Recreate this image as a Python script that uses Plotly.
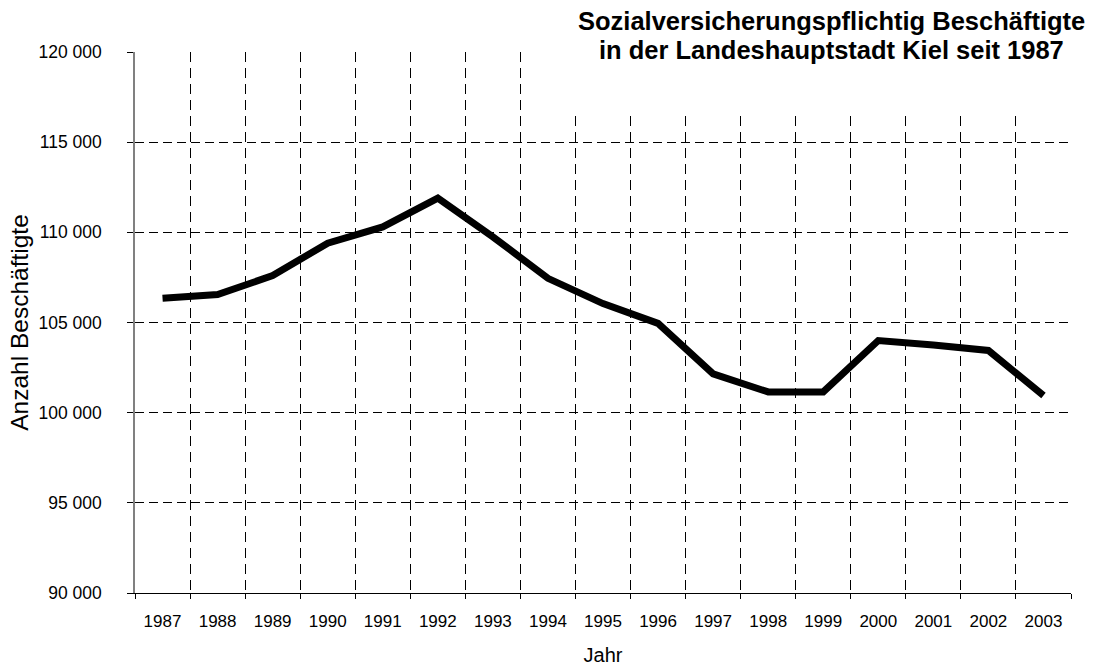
import plotly.graph_objects as go

years = [str(y) for y in range(1987, 2004)]
beschaeftigte = [106350, 106550, 107600, 109400, 110300, 111900, 109750, 107450,
                 106050, 104950, 102150, 101150, 101150, 104000, 103750, 103450, 100950]
y_tickvals = [90000, 95000, 100000, 105000, 110000, 115000, 120000]
y_ticktext = ["90 000", "95 000", "100 000", "105 000", "110 000", "115 000", "120 000"]
title_lines = ["Sozialversicherungspflichtig Beschäftigte",
               "in der Landeshauptstadt Kiel seit 1987"]

FONT = "Liberation Sans, Arial, sans-serif"

fig = go.Figure()
fig.add_trace(go.Scatter(
    x=years, y=beschaeftigte, mode="lines",
    line=dict(color="black", width=7),
    hoverinfo="x+y", showlegend=False,
))

W, H = 1097, 666
L, R, T, B = 135, 26, 52, 73
pw, ph = W - L - R, H - T - B

def px_x(x):
    return (x - L) / pw

def px_y(y):
    return (H - B - y) / ph

fig.update_layout(
    width=W, height=H,
    margin=dict(l=L, r=R, t=T, b=B, pad=0),
    paper_bgcolor="white", plot_bgcolor="white",
    font=dict(family=FONT, color="black", size=17),
    xaxis=dict(
        type="category", tickson="boundaries", range=[-0.5, len(years) - 0.5],
        showline=True, linecolor="black", linewidth=1,
        ticks="outside", ticklen=5, tickcolor="black", tickwidth=1,
        showgrid=True, gridcolor="black", gridwidth=1, griddash="10px,6px",
        tickfont=dict(size=17), ticklabelstandoff=13,
        title=dict(text="Jahr", font=dict(size=20), standoff=17),
        automargin=False,
    ),
    yaxis=dict(
        range=[90000, 120000], tickvals=y_tickvals, ticktext=y_ticktext,
        showline=True, linecolor="#808080", linewidth=1.5,
        ticks="outside", ticklen=6, tickcolor="black", tickwidth=1,
        showgrid=True, gridcolor="black", gridwidth=1, griddash="9px,5px",
        zeroline=False,
        tickfont=dict(size=17.5), ticklabelstandoff=22,
        title=dict(text="Anzahl Beschäftigte", font=dict(size=24.5), standoff=3),
        automargin=False,
    ),
)

# white title box covering the grid in the top-right corner
fig.add_shape(type="rect", xref="paper", yref="paper",
              x0=px_x(565), x1=px_x(W + 5), y0=px_y(114), y1=px_y(-5),
              fillcolor="white", line=dict(width=0), layer="above")

for txt, yc in zip(title_lines, [21, 50]):
    fig.add_annotation(text="<b>" + txt + "</b>", xref="paper", yref="paper",
                       x=px_x(831), y=px_y(yc), xanchor="center", yanchor="middle",
                       showarrow=False, font=dict(size=25.5, family=FONT, color="black"))

fig.write_html("out.html", config={"displayModeBar": False},
               post_script="document.body.style.margin='0';")
